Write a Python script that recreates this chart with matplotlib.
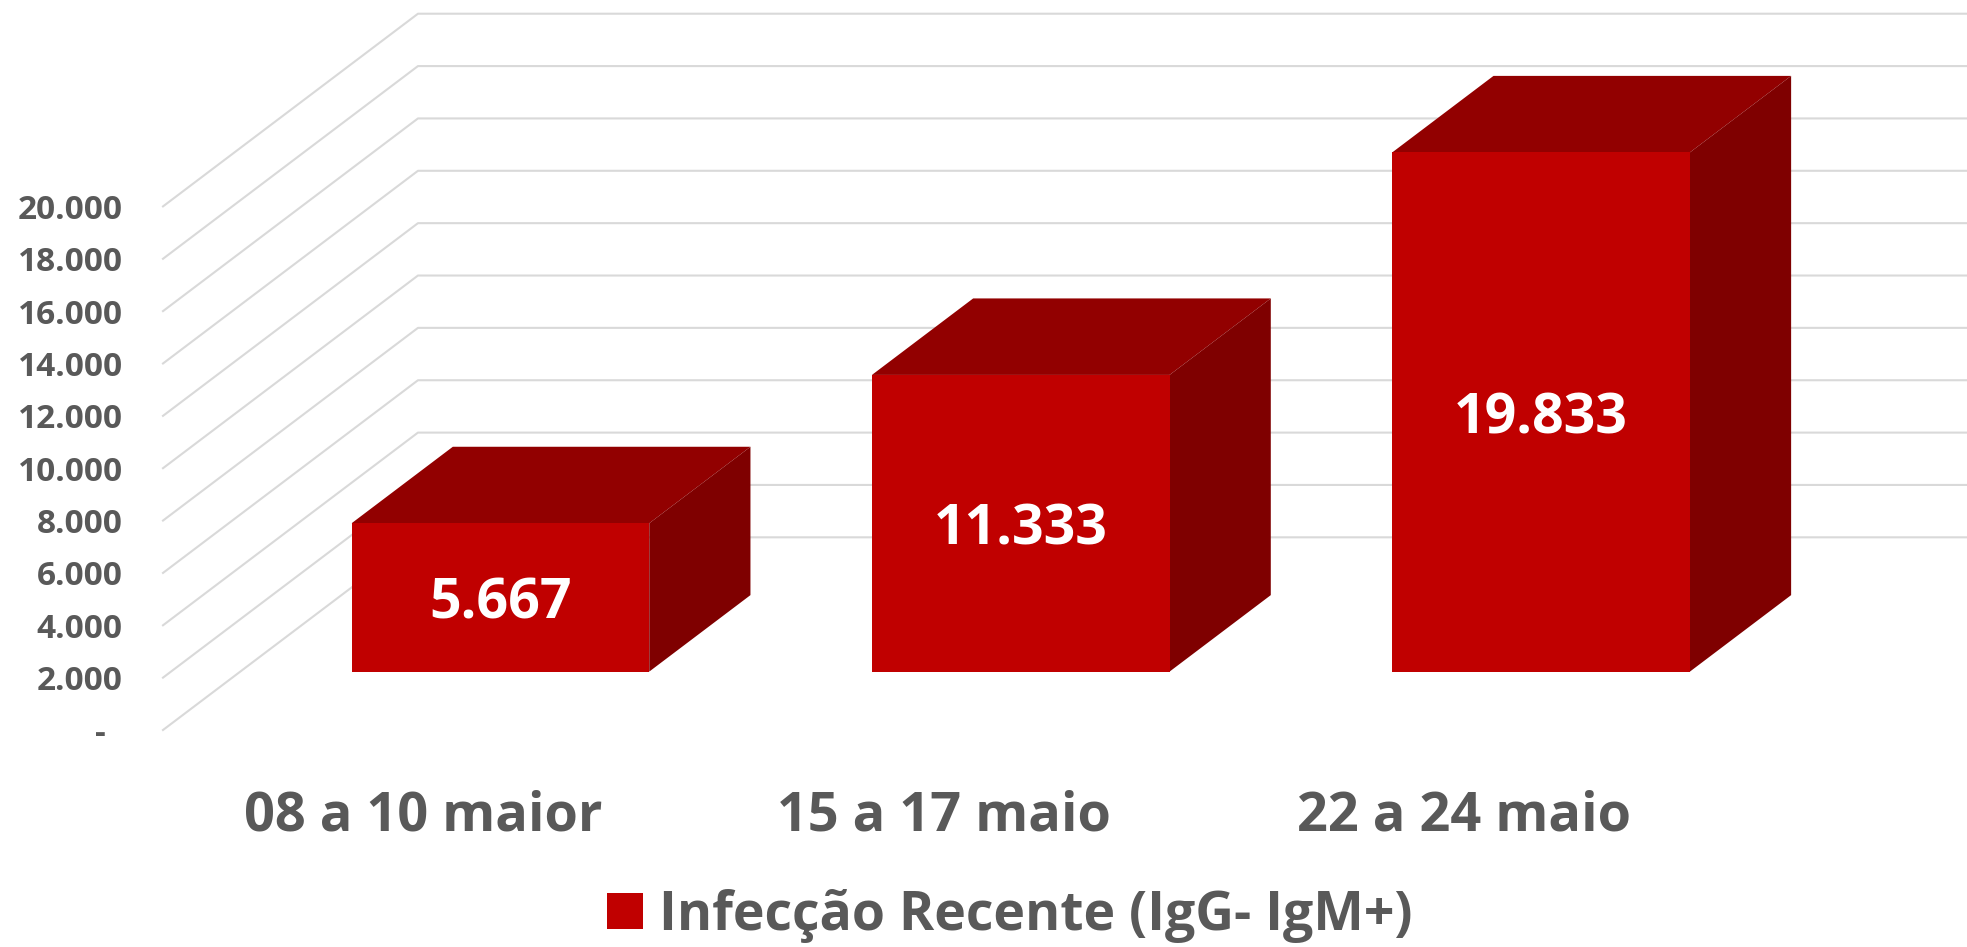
import matplotlib.pyplot as plt
from matplotlib.patches import Patch

plt.rcParams['font.family'] = ['Open Sans', 'DejaVu Sans']
plt.rcParams['font.weight'] = 'bold'

categories = ['08 a 10 maior', '15 a 17 maio', '22 a 24 maio']
values = [5667, 11333, 19833]
value_labels = ['5.667', '11.333', '19.833']
series_name = 'Infecção Recente (IgG- IgM+)'
yticks = list(range(0, 20001, 2000))
ytick_labels = ['-  '] + ['{:,}'.format(v).replace(',', '.') for v in yticks[1:]]

FRONT = '#C00000'
TOP = '#920000'
SIDE = '#7F0000'
GRID = '#D9D9D9'
TEXT = '#595959'

# fake 3d: offset of the back wall in data units (x in categories, y in values)
depth_dx = 0.49
depth_dy = 7360
bar_w = 0.572
bar_front, bar_back = 0.303, 0.70

fig = plt.figure(figsize=(19.67, 9.47), dpi=100)
ax = fig.add_axes([163 / 1967, 217 / 947, 1804 / 1967, 730 / 947])
xmax = 2.967
ax.set_xlim(-0.5, xmax)
ax.set_ylim(0, 27884)

# gridlines: diagonal on the side wall, then flat on the back wall
for v in yticks:
    ax.plot([-0.5, -0.5 + depth_dx, xmax], [v, v + depth_dy, v + depth_dy],
            color=GRID, lw=1.5, zorder=1, clip_on=False)

ddx = (bar_back - bar_front) * depth_dx
ddy = (bar_back - bar_front) * depth_dy
for i, v in enumerate(values):
    x0 = i - bar_w / 2 + bar_front * depth_dx
    y0 = bar_front * depth_dy
    x1 = x0 + bar_w
    top = [(x0, y0 + v), (x1, y0 + v), (x1 + ddx, y0 + v + ddy), (x0 + ddx, y0 + v + ddy)]
    side = [(x1, y0), (x1 + ddx, y0 + ddy), (x1 + ddx, y0 + v + ddy), (x1, y0 + v)]
    front = [(x0, y0), (x1, y0), (x1, y0 + v), (x0, y0 + v)]
    for poly, c in [(top, TOP), (side, SIDE), (front, FRONT)]:
        xs, ys = zip(*poly)
        ax.fill(xs, ys, color=c, lw=0, zorder=3)
    ax.text(x0 + bar_w / 2, y0 + v / 2, value_labels[i], ha='center', va='center_baseline',
            color='white', fontsize=40, fontweight='bold', zorder=4)

ax.set_xticks(range(len(categories)))
ax.set_xticklabels(categories, fontsize=39, fontweight='bold', color=TEXT)
ax.set_yticks(yticks)
ax.set_yticklabels(ytick_labels, fontsize=24, fontweight='bold', color=TEXT)
ax.tick_params(axis='x', length=0, pad=43)
ax.tick_params(axis='y', length=0, pad=29)
for s in ax.spines.values():
    s.set_visible(False)
ax.patch.set_alpha(0)

fig.legend(handles=[Patch(facecolor=FRONT, lw=0)], labels=[series_name],
           loc='center', bbox_to_anchor=(1010 / 1967, 1 - 916 / 947),
           frameon=False, fontsize=38.6, labelcolor=TEXT,
           handlelength=0.67, handleheight=0.67, handletextpad=0.3)

fig.savefig('out.png', dpi=100)
